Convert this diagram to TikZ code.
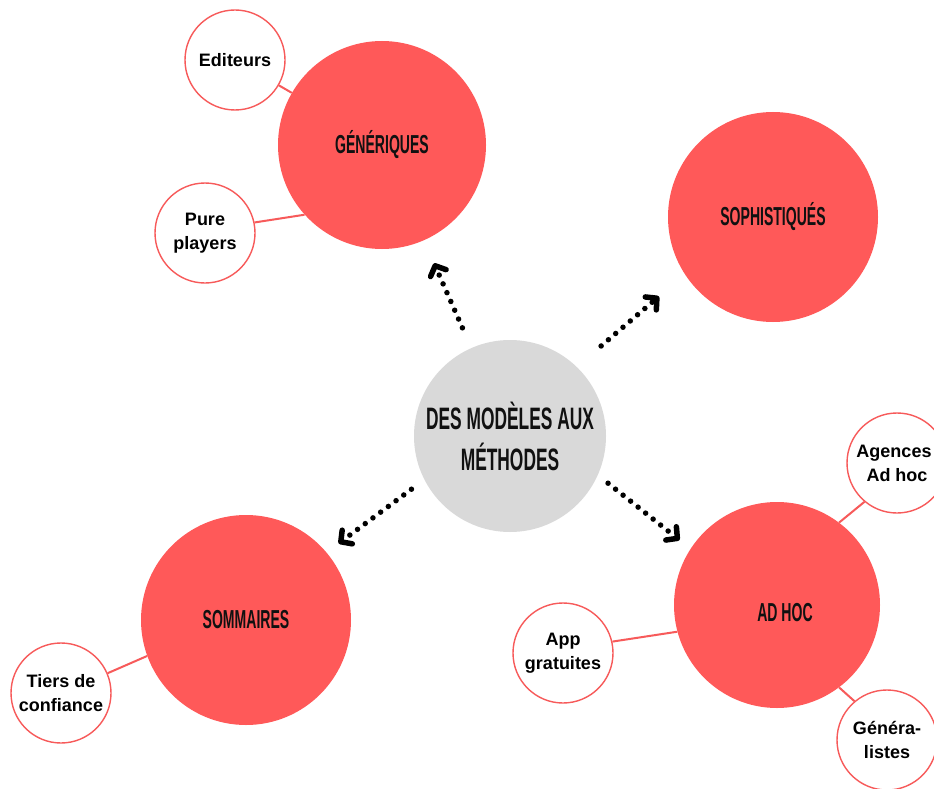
\documentclass[tikz,border=0pt]{standalone}
\usepackage{fontspec}
\setmainfont{Liberation Sans}
\newfontfamily\bebas[FakeStretch=0.56]{Liberation Sans}
\newfontfamily\bebasb[FakeStretch=0.54]{Liberation Sans}
\usetikzlibrary{arrows.meta}
\definecolor{redc}{RGB}{255,89,89}
\definecolor{redl}{RGB}{247,90,90}
\definecolor{grayc}{RGB}{217,217,217}
\definecolor{inkc}{RGB}{17,17,17}
\begin{document}
\begin{tikzpicture}[x=1pt,y=-1pt,
  bigfont/.style={font=\bebasb\bfseries\fontsize{26}{30}\selectfont,text=inkc},
  bigc/.style={circle,fill=redc,inner sep=0pt,minimum size=208pt,bigfont},
  ctrc/.style={circle,fill=grayc,inner sep=0pt,minimum size=192pt,align=center,text=inkc,
    font=\bebas\bfseries\fontsize{31}{41}\selectfont},
  smallc/.style={circle,draw=redl,line width=1.4pt,fill=white,inner sep=0pt,
    minimum size=100pt,align=center,font=\bfseries\fontsize{18}{24}\selectfont},
  link/.style={draw=redl,line width=2pt},
  dotarrow/.style={line width=5.5pt,line cap=round,dash pattern=on 0pt off 9.6pt,
    -{Straight Barb[round,length=8pt,width=17pt]}}
]
\useasboundingbox (0,0) rectangle (934,789);
\clip (0,0) rectangle (934,789);
\fill[white] (0,0) rectangle (934,789);

\node[bigc] (gen) at (382,145) {GÉNÉRIQUES};
\node[bigc,minimum size=210pt] (soph) at (773,217) {SOPHISTIQUÉS};
\node[bigc,minimum size=210pt] (som) at (246,620) {SOMMAIRES};
\node[bigc,minimum size=206pt,label={[xshift=8pt,yshift=-8pt,bigfont]center:AD HOC}] (adhoc) at (777,605) {};
\node[ctrc] (ctr) at (510,436) {DES MODÈLES AUX\\MÉTHODES};

\node[smallc] (edit) at (235,60) {Editeurs};
\node[smallc] (pure) at (205,233) {Pure\\players};
\node[smallc] (tiers) at (61,693) {Tiers de\\confiance};
\node[smallc] (app) at (563,653) {App\\gratuites};
\node[smallc] (agen) at (897,463) {\hspace*{-6pt}Agences\\Ad hoc};
\node[smallc] (gene) at (887,740) {Généra-\\listes};

\draw[link] (edit) -- (gen);
\draw[link] (pure.12) -- (gen.222);
\draw[link] (tiers.23) -- (som.200);
\draw[link] (app.13) -- (adhoc.195);
\draw[link] (agen.230) -- (adhoc.53);
\draw[link] (gene.130) -- (adhoc.-53);

\draw[dotarrow,shorten <=22pt,shorten >=25pt] (ctr) -- (gen);
\draw[dotarrow,shorten <=32pt,shorten >=34pt] (ctr.46) -- (soph.213);
\draw[dotarrow,shorten <=16pt,shorten >=15pt] (ctr.207) -- (som.40);
\draw[dotarrow,shorten <=13pt,shorten >=14pt] (ctr.-24) -- (adhoc.147);
\end{tikzpicture}
\end{document}
